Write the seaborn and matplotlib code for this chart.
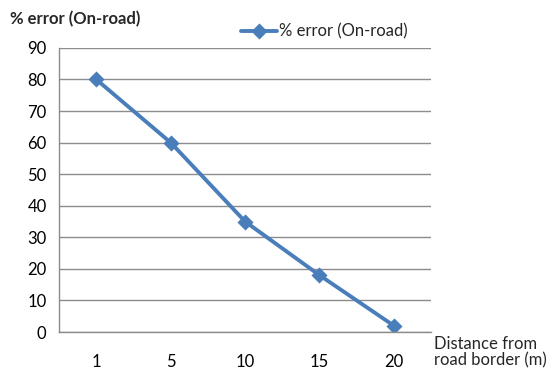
"""Percent error (on-road) versus distance from road border, Excel-style line chart."""

import matplotlib.pyplot as plt
import numpy as np
import pandas as pd
import seaborn as sns

distances = ["1", "5", "10", "15", "20"]
pct_error = [80, 60, 35, 18, 2]
y_ticks = list(range(0, 100, 10))

LINE_BLUE = "#4A7EBB"
GRID_GRAY = "#8C8C8C"
FS = 12


def main() -> None:
    sns.set_theme(style="white")
    plt.rcParams["font.family"] = ["Lato", "DejaVu Sans"]

    df = pd.DataFrame({"distance": distances, "error": pct_error})

    fig = plt.figure(figsize=(5.52, 3.71), dpi=100)
    ax = fig.add_axes([0.107, 0.105, 0.674, 0.766])

    sns.pointplot(
        data=df, x="distance", y="error", ax=ax,
        color=LINE_BLUE, markers="D", markersize=6.5, linewidth=2.8,
        label="% error (On-road)",
    )

    ax.set_xlim(-0.5, len(distances) - 0.5)
    ax.set_ylim(0, 90)
    ax.set_yticks(y_ticks)
    ax.set_xticks(range(len(distances)))
    ax.set_xticklabels(distances)
    ax.set_xticks(np.arange(-0.5, len(distances), 1.0), minor=True)
    ax.tick_params(axis="x", which="major", length=0, pad=16, labelsize=FS, colors="black")
    ax.tick_params(axis="x", which="minor", length=5, width=1, color=GRID_GRAY, direction="out")
    ax.tick_params(axis="y", length=5, width=1, color=GRID_GRAY, direction="out",
                   labelsize=FS, pad=4, labelcolor="black")
    ax.yaxis.grid(True, color=GRID_GRAY, linewidth=1)
    ax.set_axisbelow(True)

    for side in ("top", "right"):
        ax.spines[side].set_visible(False)
    for side in ("left", "bottom"):
        ax.spines[side].set_color(GRID_GRAY)
        ax.spines[side].set_linewidth(1)

    ax.set_xlabel("")
    ax.set_ylabel("")
    fig.text(0.018, 0.935, "% error (On-road)", fontsize=FS, fontweight="bold", ha="left", va="baseline")
    fig.text(0.787, 0.094, "Distance from\nroad border (m)", fontsize=FS, ha="left", va="top",
             linespacing=1.05)

    ax.legend(loc="upper left", bbox_to_anchor=(0.47, 1.11), frameon=False, fontsize=FS,
              handlelength=2.2, handletextpad=0.1, borderaxespad=0)

    fig.savefig("out.png", dpi=100)


if __name__ == "__main__":
    main()
